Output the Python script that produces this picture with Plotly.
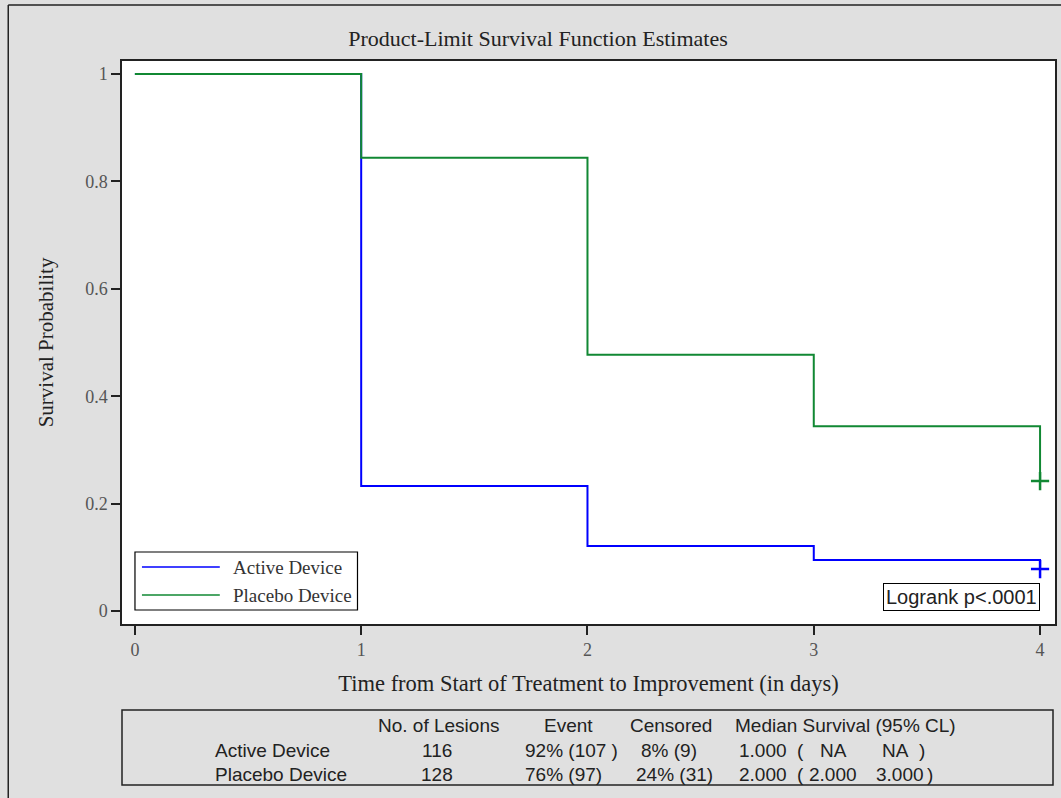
import plotly.graph_objects as go

# ---- data ----
groups = ["Active Device", "Placebo Device"]
times = [0, 1, 2, 3, 4]
active_surv = [1.0, 0.233, 0.121, 0.095, 0.078]
placebo_surv = [1.0, 0.844, 0.477, 0.344, 0.242]
censor_time = [4, 4]
censor_surv = [0.078, 0.242]
colors = ["#0000ff", "#118833"]

lesions = ["116", "128"]
events = ["92% (107 )", "76% (97)"]
censored = ["8% (9)", "24% (31)"]
median = ["1.000", "2.000"]
lcl = ["NA", "2.000"]
ucl = ["NA", "3.000"]
headers = ["No. of Lesions", "Event", "Censored", "Median Survival (95% CL)"]
logrank = "Logrank p<.0001"

W, H = 1061, 798
L, R, T, B = 122, 4, 61, 174
PW = W - L - R
PH = H - T - B


def px(x):
    return (x - L) / PW


def py(y):
    return (H - B - y) / PH


serif = "Liberation Serif, Times New Roman, serif"
sans = "Liberation Sans, Arial, sans-serif"

fig = go.Figure()
for name, surv, col in zip(groups, [active_surv, placebo_surv], colors):
    fig.add_trace(go.Scatter(x=times, y=surv, mode="lines", line_shape="hv",
                             line=dict(color=col, width=2), name=name,
                             showlegend=False))
for t, s, col in zip(censor_time, censor_surv, colors):
    fig.add_trace(go.Scatter(x=[t], y=[s], mode="markers",
                             marker=dict(symbol="cross-thin", size=13,
                                         line=dict(color=col, width=2.5)),
                             showlegend=False))

shapes = []
annotations = []

# outer border lines
shapes.append(dict(type="line", xref="paper", yref="paper", x0=px(8), x1=px(8),
                   y0=py(800), y1=py(5), line=dict(color="#222", width=1.5)))
shapes.append(dict(type="line", xref="paper", yref="paper", x0=px(8), x1=px(1065),
                   y0=py(5), y1=py(5), line=dict(color="#222", width=1.5)))

# manual legend
shapes.append(dict(type="rect", xref="paper", yref="paper", x0=px(135), x1=px(358),
                   y0=py(610), y1=py(552), fillcolor="white",
                   line=dict(color="black", width=1.2), layer="above"))
for i, (name, col) in enumerate(zip(groups, colors)):
    yy = 567 + 28 * i
    shapes.append(dict(type="line", xref="paper", yref="paper", x0=px(142), x1=px(220),
                       y0=py(yy), y1=py(yy), line=dict(color=col, width=1.5),
                       layer="above"))
    annotations.append(dict(xref="paper", yref="paper", x=px(231), y=py(yy),
                            text=name, showarrow=False, xanchor="left",
                            yanchor="middle",
                            font=dict(family=serif, size=19, color="#333")))

# logrank box
annotations.append(dict(xref="x", yref="y", x=4, y=0, text=logrank, showarrow=False,
                        xanchor="right", yanchor="bottom", bgcolor="white",
                        bordercolor="black", borderwidth=1, borderpad=2,
                        font=dict(family=sans, size=20, color="#222")))

# table
shapes.append(dict(type="rect", xref="paper", yref="paper", x0=px(122), x1=px(1055),
                   y0=py(785), y1=py(710), line=dict(color="#222", width=1.5)))
tfont = dict(family=sans, size=19, color="#222")
head_x = [439, 569, 672, 847]
for hx, htxt in zip(head_x, headers):
    annotations.append(dict(xref="paper", yref="paper", x=px(hx), y=py(725), text=htxt,
                            showarrow=False, xanchor="center", yanchor="middle",
                            font=tfont))
ev_x = [524, 524]
cen_x = [640, 635]
for i in range(2):
    yy = 750 + 24 * i
    cells = [
        (213, "left", groups[i]),
        (438, "center", lesions[i]),
        (ev_x[i], "left", events[i]),
        (cen_x[i], "left", censored[i]),
        (738, "left", median[i]),
        (796, "left", "("),
        (835, "center", lcl[i]),
        (897 if ucl[i] == "NA" else 902, "center", ucl[i]),
        (919 if ucl[i] == "NA" else 927, "left", ")"),
    ]
    for cx, anc, txt in cells:
        annotations.append(dict(xref="paper", yref="paper", x=px(cx), y=py(yy),
                                text=txt, showarrow=False, xanchor=anc,
                                yanchor="middle", font=tfont))

fig.update_layout(
    width=W, height=H,
    margin=dict(l=L, r=R, t=T, b=B),
    paper_bgcolor="#e0e0e0",
    plot_bgcolor="white",
    title=dict(text="Product-Limit Survival Function Estimates", xref="container",
               x=538 / W, xanchor="center", yref="container", y=1 - 38 / H,
               yanchor="middle",
               font=dict(family=serif, size=22, color="#222")),
    xaxis=dict(range=[-0.057, 4.066], tickvals=[0, 1, 2, 3, 4], ticks="outside",
               ticklen=9, tickwidth=1.5, tickcolor="#222", showgrid=False,
               zeroline=False, showline=True, linecolor="#222", linewidth=1.5,
               mirror=True,
               tickfont=dict(family=serif, size=18, color="#555"),
               title=dict(text="Time from Start of Treatment to Improvement (in days)",
                          font=dict(family=serif, size=22.5, color="#222"),
                          standoff=16)),
    yaxis=dict(range=[-0.0242, 1.0242], tickvals=[0, 0.2, 0.4, 0.6, 0.8, 1],
               ticktext=["0", "0.2", "0.4", "0.6", "0.8", "1"], ticks="outside",
               ticklen=9, tickwidth=1.5, tickcolor="#222", showgrid=False,
               zeroline=False, showline=True, linecolor="#222", linewidth=1.5,
               mirror=True,
               tickfont=dict(family=serif, size=18, color="#555"),
               title=dict(text="Survival Probability",
                          font=dict(family=serif, size=21, color="#222"),
                          standoff=26)),
    shapes=shapes,
    annotations=annotations,
)

fig.write_html("out.html", config={"displayModeBar": False},
               post_script="document.body.style.margin='0';document.body.style.overflow='hidden';")
